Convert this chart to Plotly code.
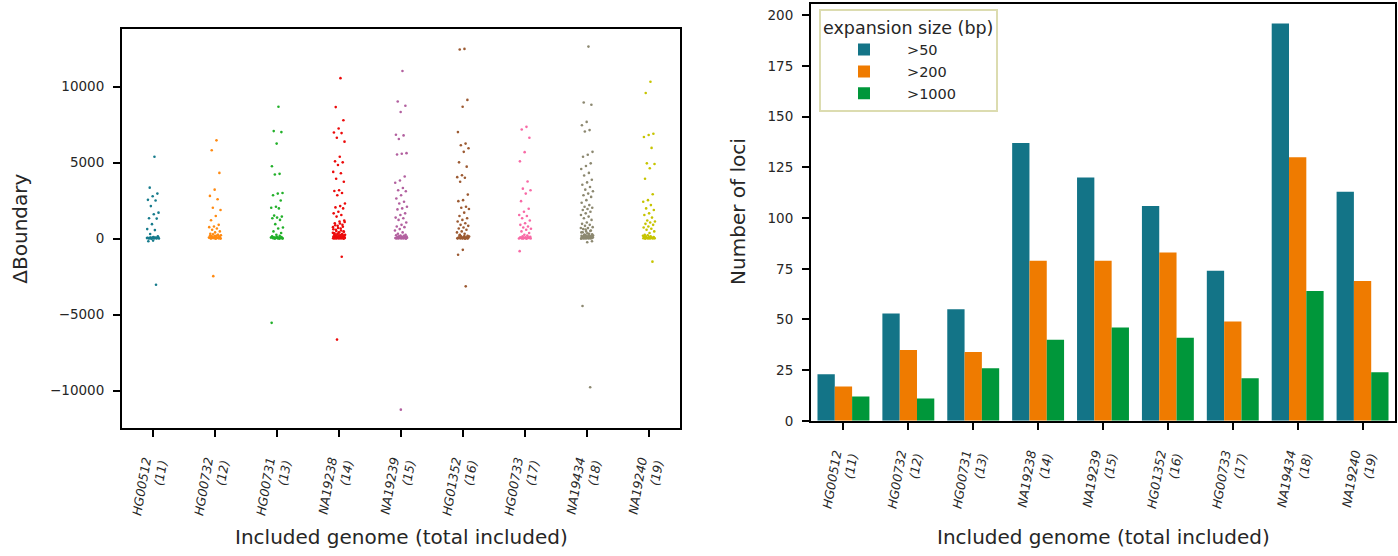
import plotly.graph_objects as go

# ---------------- data ----------------
genomes = ["HG00512", "HG00732", "HG00731", "NA19238", "NA19239",
           "HG01352", "HG00733", "NA19434", "NA19240"]
totals = [11, 12, 13, 14, 15, 16, 17, 18, 19]

# ΔBoundary values per genome
d_HG00512 = [5390, 3356, 2966, 2793, 2555, 2511, 2143, 1710, 1602, 1342, 1320, 953, 628, 563, 303, 152,
             -130, -173, -3031, 0, 10, 20, 30, 40, 50, 60, 70, 80, 90, 100, 5, 15, 25, 35, 45, 55, 65, 75]
d_HG00732 = [6473, 5824, 4330, 3226, 2815, 2598, 2035, 1884, 1494, 1212, 909, 801, 758, 671, 585, 476, 411,
             325, 260, -2468, 220, 180, 150, 120, 100, 80, 60, 40, 20, 0, 10, 30, 50, 70, 90, 110, 140, 170,
             200, 240, 280, 5, 15, 25, 35, 45]
d_HG00731 = [8682, 7080, 7015, 6257, 4763, 4265, 4222, 3009, 2966, 2858, 2511, 2100, 2035, 1992, 1516, 1451,
             1386, 1342, 1234, 953, 736, 671, 476, 368, 260, -5542, 0, 10, 20, 30, 40, 50, 60, 70, 80, 90,
             100, 120, 150, 180, 5, 15, 25, 35, 45, 55]
d_NA19238 = [10565, 8660, 7794, 7253, 6993, 6950, 6646, 6387, 5390, 5088, 5023, 4850, 4395, 4308, 3940,
             3745, 3183, 3139, 3009, 2858, 2317, 2143, 2057, 1992, 1775, 1667, 1559, 1451, 1191, 1126, 1018,
             909, 844, 758, 671, 585, 476, 411, 325, -1191, -6647, 1100, 1000, 880, 780, 700, 620, 540, 500,
             450, 400, 360, 300, 280, 250, 230, 210, 190, 170, 150, 130, 110, 95, 80, 65, 50, 40, 30, 20, 10,
             0, 5, 15, 25, 35, 45, 55, 70, 85, 100, 120, 140, 160, 180, 200, 240, 270, 320, 380]
d_NA19239 = [11042, 9028, 8747, 8335, 6841, 6798, 6560, 5629, 5586, 5542, 4092, 3832, 3680, 3334, 3183,
             3118, 2858, 2641, 2425, 2317, 2100, 1992, 1927, 1667, 1559, 1386, 1342, 1234, 1061, 909, 801,
             758, 628, 541, 411, 325, 260, -11258, 220, 190, 160, 130, 110, 90, 70, 50, 35, 20, 10, 0, 5, 15,
             25, 40, 60, 80, 100, 150, 200]
d_HG01352 = [12492, 12449, 9136, 8682, 7015, 6257, 6149, 5954, 5716, 5023, 4741, 4178, 4049, 4005, 3745,
             2901, 2533, 2468, 2100, 2035, 1948, 1710, 1494, 1342, 1234, 1126, 1018, 909, 844, 736, 671, 585,
             476, 411, 325, 260, 195, -736, -1061, -3139, 150, 120, 100, 80, 60, 40, 20, 0, 10, 30, 50, 70,
             90, 110, 140, 170, 220, 5, 15, 25, 35]
d_HG00733 = [7361, 7188, 6646, 5694, 5088, 3767, 3291, 3183, 2966, 2468, 1970, 1775, 1559, 1494, 1342,
             1191, 1018, 909, 801, 736, 650, 585, 476, 368, 260, -823, 200, 150, 120, 90, 70, 50, 30, 10, 0,
             20, 40, 60, 80, 100, 5, 15, 25, 35]
d_NA19434 = [12644, 8963, 8812, 7686, 7469, 7145, 7058, 5716, 5521, 5390, 4958, 4785, 4590, 4330, 4157,
             3875, 3702, 3551, 3399, 3226, 3118, 2966, 2858, 2750, 2533, 2360, 2208, 2100, 2035, 1948, 1884,
             1775, 1667, 1559, 1451, 1342, 1234, 1061, 974, 909, 844, 758, 693, 628, 541, 476, 411, 325, 260,
             -173, -238, -4438, -9786, 230, 200, 180, 160, 140, 120, 100, 85, 70, 55, 40, 30, 20, 10, 0, 5,
             15, 25, 35, 45, 60, 75, 90, 110, 130, 150, 170, 190, 210, 250, 290, 350, 420, 500, 600, 700]
d_NA19240 = [10327, 9591, 6906, 6820, 6690, 5975, 4958, 4915, 4633, 3940, 2923, 2533, 2425, 2208, 1992,
             1884, 1667, 1559, 1386, 1191, 1126, 1061, 974, 909, 801, 736, 650, 585, 476, 368, 260, -1515,
             220, 190, 160, 130, 110, 90, 70, 50, 35, 20, 10, 0, 5, 15, 25, 40, 60, 80, 100, 150]
delta_boundary = [d_HG00512, d_HG00732, d_HG00731, d_NA19238, d_NA19239,
                  d_HG01352, d_HG00733, d_NA19434, d_NA19240]

# Number of loci per expansion size
loci_gt50 = [23, 53, 55, 137, 120, 106, 74, 196, 113]
loci_gt200 = [17, 35, 34, 79, 79, 83, 49, 130, 69]
loci_gt1000 = [12, 11, 26, 40, 46, 41, 21, 64, 24]
size_labels = [">50", ">200", ">1000"]

# ---------------- styles ----------------
strip_colors = ["#167b8c", "#ff8a12", "#22b02a", "#ec0a0a", "#b2609f",
                "#9c5a32", "#f86aa6", "#8c8870", "#c6c400"]
bar_colors = ["#137487", "#ef7b00", "#00973a"]
FONT = "DejaVu Sans"
TXT = "#262626"

ticktext = [f"{g}<br>({t})" for g, t in zip(genomes, totals)]

fig = go.Figure()

# ---- left: strip plot ----
for i, (g, vals) in enumerate(zip(genomes, delta_boundary)):
    xs = [i + (((k + 1) * 0.6180339887) % 1.0 - 0.5) * 0.2 for k in range(len(vals))]
    fig.add_trace(go.Scatter(
        x=xs, y=vals, mode="markers", name=g, showlegend=False,
        marker=dict(size=2.6, color=strip_colors[i], line=dict(width=0)),
        xaxis="x", yaxis="y"))

# ---- right: grouped bars ----
for s, vals, c in zip(size_labels, [loci_gt50, loci_gt200, loci_gt1000], bar_colors):
    fig.add_trace(go.Bar(
        x=list(range(len(genomes))), y=vals, name=s, marker=dict(color=c, line=dict(width=0)),
        xaxis="x2", yaxis="y2"))

W, H = 1398, 556
L1, R1, T1, B1 = 122, 680, 29, 434
L2, R2, T2, B2 = 811, 1395, 4, 427

base = dict(showline=True, linewidth=2, linecolor="black", mirror=True,
            ticks="outside", ticklen=7, tickwidth=1.8, tickcolor="black",
            showgrid=False, zeroline=False)
yfont = dict(family=FONT, size=13.5, color=TXT)
xfont = dict(family=FONT, size=12.5, color=TXT, style="italic")

fig.update_layout(
    width=W, height=H, margin=dict(l=0, r=0, t=0, b=0),
    paper_bgcolor="white", plot_bgcolor="white",
    barmode="group", bargap=0.2, bargroupgap=0,
    font=dict(family=FONT, color=TXT),
    xaxis=dict(domain=[L1 / W, R1 / W], range=[-0.5, 8.5], tickmode="array",
               tickvals=list(range(9)), ticktext=ticktext, tickangle=-80,
               ticklabelstandoff=13, anchor="y", tickfont=xfont, **base),
    yaxis=dict(domain=[1 - B1 / H, 1 - T1 / H], range=[-12450, 13830], anchor="x",
               tickvals=[-10000, -5000, 0, 5000, 10000],
               ticktext=["\u221210000", "\u22125000", "0", "5000", "10000"],
               ticklabelstandoff=6, tickfont=yfont, **base),
    xaxis2=dict(domain=[L2 / W, R2 / W], range=[-0.5, 8.5], tickmode="array",
                tickvals=list(range(9)), ticktext=ticktext, tickangle=-80,
                ticklabelstandoff=13, anchor="y2", tickfont=xfont, **base),
    yaxis2=dict(domain=[1 - B2 / H, 1 - T2 / H], range=[0, 205.6], anchor="x2",
                tickvals=[0, 25, 50, 75, 100, 125, 150, 175, 200],
                ticklabelstandoff=6, tickfont=yfont, **base),
    legend=dict(x=819 / W, y=1 - 9 / H, xanchor="left", yanchor="top",
                bgcolor="white", bordercolor="#dcdcb0", borderwidth=2,
                title=dict(text="expansion size (bp)", font=dict(family=FONT, size=17.5, color=TXT)),
                font=dict(family=FONT, size=14.5, color=TXT), itemwidth=76),
    annotations=[
        dict(text="Included genome (total included)", x=(L1 + R1) / 2 / W, y=1 - 545 / H,
             xref="paper", yref="paper", showarrow=False, xanchor="center", yanchor="middle",
             font=dict(family=FONT, size=20, color=TXT)),
        dict(text="Included genome (total included)", x=(L2 + R2) / 2 / W, y=1 - 545 / H,
             xref="paper", yref="paper", showarrow=False, xanchor="center", yanchor="middle",
             font=dict(family=FONT, size=20, color=TXT)),
        dict(text="\u0394Boundary", x=20 / W, y=1 - 232 / H, textangle=-90,
             xref="paper", yref="paper", showarrow=False, xanchor="center", yanchor="middle",
             font=dict(family=FONT, size=20, color=TXT)),
        dict(text="Number of loci", x=738 / W, y=1 - 215 / H, textangle=-90,
             xref="paper", yref="paper", showarrow=False, xanchor="center", yanchor="middle",
             font=dict(family=FONT, size=20, color=TXT)),
    ],
)

fig.write_html("out.html")
